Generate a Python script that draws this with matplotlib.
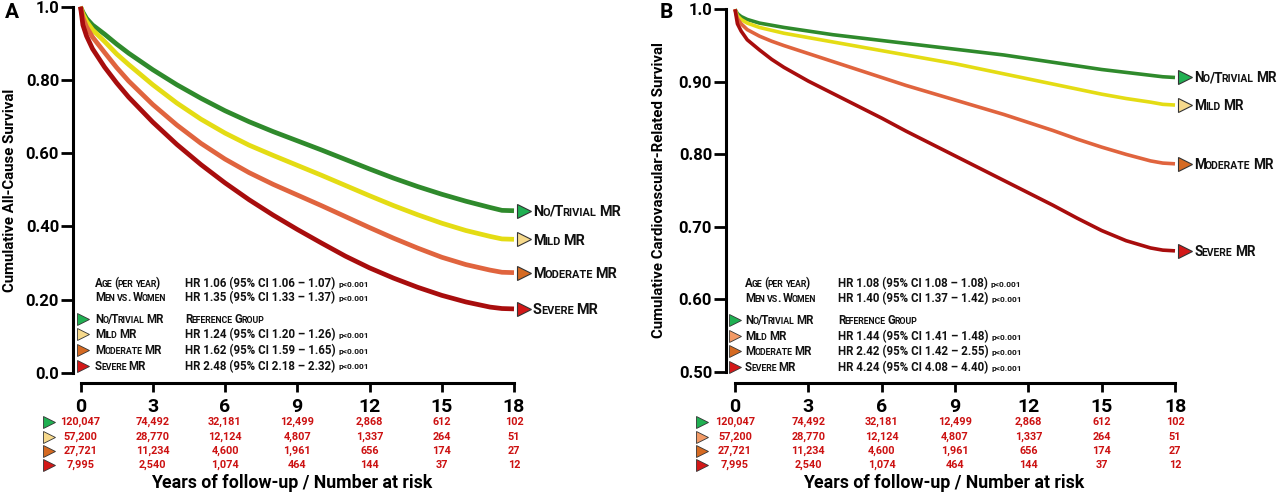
import matplotlib
matplotlib.use('Agg')
import matplotlib.pyplot as plt
from matplotlib.transforms import IdentityTransform

plt.rcParams['font.family'] = ['Roboto', 'DejaVu Sans']
plt.rcParams['font.weight'] = 'bold'

W, H, DPI = 1280, 496, 100

# ---- data ----
years = [0, 0.1, 0.25, 0.5, 1, 1.5, 2, 3, 4, 5, 6, 7, 8, 9, 10, 11, 12,
         13, 14, 15, 16, 17, 17.5, 18]

# panel A: all-cause survival
green_all = [1.0, .985, .968, .950, .925, .898, .873, .828, .787, .750, .716, .686,
             .659, .634, .609, .583, .557, .532, .509, .488, .469, .452, .444, .443]
yellow_all = [1.0, .98, .96, .937, .905, .871, .842, .787, .737, .693, .655, .622,
              .594, .567, .540, .512, .484, .457, .432, .409, .389, .373, .366, .365]
orange_all = [1.0, .97, .945, .917, .875, .834, .797, .733, .677, .627, .584, .547,
              .515, .486, .457, .427, .397, .368, .341, .316, .296, .281, .275, .274]
red_all = [1.0, .95, .92, .885, .835, .792, .753, .685, .624, .569, .519, .473,
           .431, .392, .355, .319, .287, .259, .234, .212, .194, .180, .176, .175]

# panel B: cardiovascular-related survival
green_cv = [1.0, .994, .99, .986, .981, .978, .975, .970, .965, .961, .957, .953,
            .949, .945, .941, .937, .932, .927, .922, .917, .913, .909, .907, .906]
yellow_cv = [1.0, .991, .986, .981, .975, .971, .967, .961, .955, .949, .943, .937,
             .931, .925, .918, .911, .904, .897, .890, .883, .877, .872, .869, .868]
orange_cv = [1.0, .987, .98, .972, .963, .956, .950, .939, .928, .917, .906, .895,
             .885, .875, .865, .855, .844, .833, .821, .810, .800, .791, .788, .787]
red_cv = [1.0, .98, .97, .958, .944, .931, .920, .901, .884, .867, .850, .832,
          .815, .798, .781, .764, .747, .730, .712, .695, .681, .671, .668, .667]

groups = ['No/Trivial MR', 'Mild MR', 'Moderate MR', 'Severe MR']
risk_years = [0, 3, 6, 9, 12, 15, 18]
risk_none = ['120,047', '74,492', '32,181', '12,499', '2,868', '612', '102']
risk_mild = ['57,200', '28,770', '12,124', '4,807', '1,337', '264', '51']
risk_mod = ['27,721', '11,234', '4,600', '1,961', '656', '174', '27']
risk_sev = ['7,995', '2,540', '1,074', '464', '144', '37', '12']

covariates = ['Age (per year)', 'Men vs. Women']
hr_all = ['HR 1.06 (95% CI 1.06 – 1.07)', 'HR 1.35 (95% CI 1.33 – 1.37)',
          None, 'HR 1.24 (95% CI 1.20 – 1.26)', 'HR 1.62 (95% CI 1.59 – 1.65)',
          'HR 2.48 (95% CI 2.18 – 2.32)']
hr_cv = ['HR 1.08 (95% CI 1.08 – 1.08)', 'HR 1.40 (95% CI 1.37 – 1.42)',
         None, 'HR 1.44 (95% CI 1.41 – 1.48)', 'HR 2.42 (95% CI 1.42 – 2.55)',
         'HR 4.24 (95% CI 4.08 – 4.40)']

line_colors = ['#2f8a2c', '#e4dc14', '#e0643e', '#a80d0d']
mark_colors = ['#20b052', '#f6d98c', '#d56a22', '#d31818']
key_colors_b = ['#20b052', '#f29a66', '#d56a22', '#d31818']
risk_color = '#cc1111'

fig = plt.figure(figsize=(W / DPI, H / DPI), dpi=DPI)
renderer = fig.canvas.get_renderer()
ident = IdentityTransform()


def sc_text(x, y, s, size, color='#111111'):
    """small caps text, x = left pixel, y = vertical centre pixel (from top)"""
    base = H - y - 0.36 * size * DPI / 72
    cx = x
    runs = []
    for ch in s:
        kind = 'sp' if ch == ' ' else ('lo' if ch.islower() else 'up')
        if runs and runs[-1][0] == kind:
            runs[-1][1] += ch
        else:
            runs.append([kind, ch])
    for kind, txt in runs:
        if kind == 'sp':
            cx += len(txt) * 0.25 * size * DPI / 72
            continue
        fs = size * 0.76 if kind == 'lo' else size
        t = fig.text(cx, base, txt.upper(), fontsize=fs, color=color,
                     transform=ident, ha='left', va='baseline')
        cx += t.get_window_extent(renderer).width - 0.9
    return cx


def plain_text(x, y, s, size, color='#111111'):
    base = H - y - 0.36 * size * DPI / 72
    t = fig.text(x, base, s, fontsize=size, color=color, transform=ident,
                 ha='left', va='baseline')
    return x + t.get_window_extent(renderer).width


def make_axes(x0, x1, ytop, ybot):
    return fig.add_axes([x0 / W, 1 - ybot / H, (x1 - x0) / W, (ybot - ytop) / H])


def panel(ax, curves, lw, ylo, yticks, yticklabels, left_off, bot_off,
          key_colors, hr, leg_x, leg_rows, risk_x, name_size, ylabel,
          ylabel_x, letter, letter_x, xlabel_x):
    for vals, c in zip(curves, line_colors):
        ax.plot(years, vals, color=c, lw=lw, solid_capstyle='butt',
                solid_joinstyle='round', clip_on=False)
    ax.set_xlim(0, 18)
    ax.set_ylim(ylo, 1.0)
    for s in ['top', 'right']:
        ax.spines[s].set_visible(False)
    ax.spines['left'].set_position(('outward', left_off))
    ax.spines['bottom'].set_position(('outward', bot_off))
    for s in ['left', 'bottom']:
        ax.spines[s].set_linewidth(2.2)
    ax.set_yticks(yticks)
    ax.set_yticklabels(yticklabels)
    ax.set_xticks(risk_years)
    ax.tick_params(axis='y', direction='out', length=9, width=2, labelsize=12, pad=1)
    ax.tick_params(axis='x', direction='out', length=6.5, width=2, labelsize=14, pad=4)
    ax.patch.set_alpha(0)

    # end-of-curve markers and group names
    for vals, mc, name in zip(curves, mark_colors, groups):
        ax.plot(18.42, vals[-1], marker='>', ms=9.5, mfc=mc, mec='#333333',
                mew=0.8, clip_on=False)
        px, py = ax.transData.transform((18.78, vals[-1]))
        sc_text(px, H - py, name, name_size)

    # hazard ratio box
    mx, lx, hx = leg_x
    for i, (row_y, hrtxt) in enumerate(zip(leg_rows, hr)):
        if i < 2:
            sc_text(lx, row_y, covariates[i], 8.3)
        else:
            g = i - 2
            dx, dy = ax.transData.inverted().transform((mx, H - row_y))
            ax.plot(dx, dy, marker='>', ms=8, mfc=key_colors[g], mec='#333333',
                    mew=0.6, clip_on=False)
            sc_text(lx, row_y, groups[g], 8.3)
        if hrtxt is None:
            sc_text(hx, row_y, 'Reference Group', 8.3)
        else:
            end = plain_text(hx, row_y, hrtxt, 8.3)
            plain_text(end + 3, row_y + 0.8, 'p<0.001', 6)

    # number at risk table
    rows_y = [421.7, 436.7, 450.5, 464.5]
    for row, ry, kc in zip([risk_none, risk_mild, risk_mod, risk_sev], rows_y, key_colors):
        for yr, n in zip(risk_years, row):
            px, _ = ax.transData.transform((yr, ylo))
            fig.text(px, H - ry, n, fontsize=7.8, color=risk_color, transform=ident,
                     ha='center', va='center')
        kx, ky = ax.transData.inverted().transform((risk_x, H - ry))
        ax.plot(kx, ky, marker='>', ms=9, mfc=kc, mec='#333333', mew=0.6, clip_on=False)

    fig.text(ylabel_x, H - 190, ylabel, fontsize=10.8, rotation=90,
             transform=ident, ha='center', va='center')
    fig.text(xlabel_x, H - 483, 'Years of follow-up / Number at risk', fontsize=12.8,
             transform=ident, ha='center', va='center')
    fig.text(letter_x, H - 13, letter, fontsize=15,
             transform=ident, ha='center', va='center')


axA = make_axes(80.5, 514, 6.7, 373)
axB = make_axes(735, 1175, 9.3, 372)

panel(axA, [green_all, yellow_all, orange_all, red_all], 3.4, 0.0,
      [0, 0.2, 0.4, 0.6, 0.8, 1.0], ['0.0', '0.20', '0.40', '0.60', '0.80', '1.0'],
      5.4, 7.2, mark_colors, hr_all, (83, 95, 185),
      [282.7, 296.7, 319, 334.3, 350, 365.7], 49, 10.4,
      'Cumulative All-Cause Survival', 10, 'A', 12, 292)

panel(axB, [green_cv, yellow_cv, orange_cv, red_cv], 2.6, 0.5,
      [0.5, 0.6, 0.7, 0.8, 0.9, 1.0], ['0.50', '0.60', '0.70', '0.80', '0.90', '1.0'],
      6.5, 8.0, key_colors_b, hr_cv, (735, 745, 838),
      [283.3, 298.3, 320, 336, 351, 366.7], 702, 9.8,
      'Cumulative Cardiovascular-Related Survival', 659, 'B', 666, 944)

fig.savefig('out.png', dpi=DPI)
plt.close(fig)
